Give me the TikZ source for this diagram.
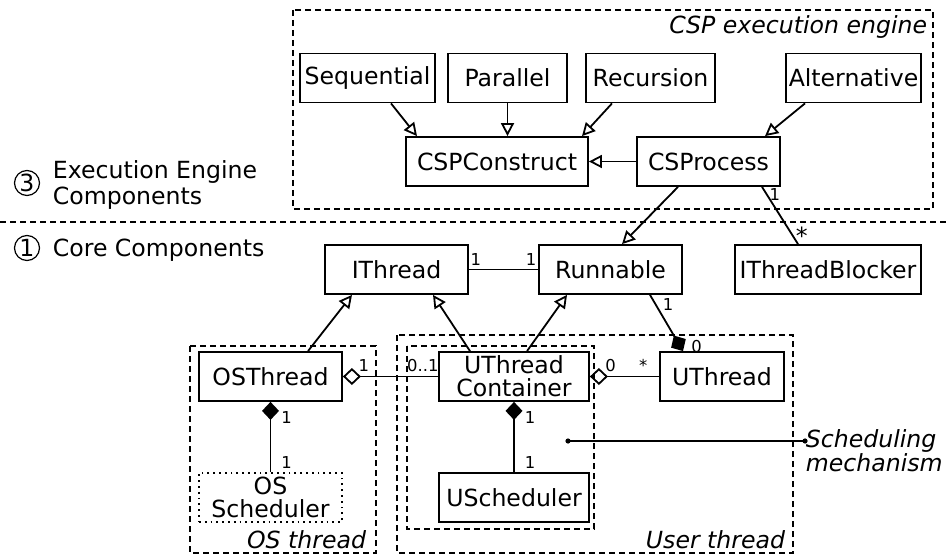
\documentclass[tikz,border=0pt]{standalone}
\usepackage{fontspec}
\setmainfont{DejaVu Sans}
\usetikzlibrary{arrows.meta}

\begin{document}
\begin{tikzpicture}[x=0.5pt, y=-0.5pt, line width=0.9pt,
            font=\fontsize{11.8}{11.5}\selectfont,
            cls/.style={draw, inner sep=0pt, minimum height=24.5pt, align=center},
            mult/.style={font=\fontsize{8.2}{9}\selectfont, inner sep=0pt},
            dashbox/.style={dash pattern=on 3pt off 2pt, line width=0.6pt},
            boxlabel/.style={font=\fontsize{11.8}{12}\selectfont\itshape, inner sep=0pt},
            circnum/.style={circle, draw, line width=0.6pt, inner sep=0pt, minimum size=12.5pt},
            gen/.style={-{Triangle[open,length=6.5pt,width=6.5pt]}},
            agg/.style={{Diamond[open,length=9pt,width=8.5pt]}-},
            comp/.style={{Diamond[length=9pt,width=8.5pt]}-}]
            \useasboundingbox (0,0) rectangle (946,555);

            \draw[dashbox] (293,10) rectangle (933,209);
            \draw[dashbox] (0,222) -- (946,222);
            \draw[dashbox] (190,346) rectangle (376,553);
            \draw[dashbox] (397,335) rectangle (793,553);
            \draw[dashbox] (407,346) rectangle (594,529);

            \node[boxlabel, anchor=east] (csplbl) at (928,27) {CSP execution engine};
            \node[boxlabel, anchor=east] (oslbl) at (367,540) {OS thread};
            \node[boxlabel, anchor=east] (userlbl) at (786,540) {User thread};

            \node[circnum] (three) at (27,183) {3};
            \node[anchor=west, align=left, inner sep=0pt, font=\fontsize{11.8}{12.8}\selectfont] (eec) at (52,185) {Execution Engine\\Components};
            \node[circnum] (one) at (27,248) {1};
            \node[anchor=west, inner sep=0pt] (core) at (52,250) {Core Components};

            \node[cls, minimum width=67.5pt] (seq) at (367.5,78) {Sequential};
            \node[cls, minimum width=59.5pt] (par) at (507.5,78) {Parallel};
            \node[cls, minimum width=64.5pt] (rec) at (650.5,78) {Recursion};
            \node[cls, minimum width=67.5pt] (alt) at (853.5,78) {Alternative};
            \node[cls, minimum width=91pt] (cspc) at (497,161.5) {CSPConstruct};
            \node[cls, minimum width=71.5pt] (cspp) at (708.5,161.5) {CSProcess};
            \node[cls, minimum width=71.5pt] (ithr) at (396.5,269.5) {IThread};
            \node[cls, minimum width=71.5pt] (run) at (610.5,269.5) {Runnable};
            \node[cls, minimum width=93pt] (blk) at (828,269.5) {IThreadBlocker};
            \node[cls, minimum width=71.5pt] (ost) at (270.5,376.5) {OSThread};
            \node[cls, minimum width=71.5pt, dotted] (oss) at (270.5,497.5) {OS\\Scheduler};
            \node[cls, minimum width=75pt] (utc) at (514,376.5) {UThread\\Container};
            \node[cls, minimum width=75pt] (usch) at (514,497.5) {UScheduler};
            \node[cls, minimum width=62pt] (uth) at (722,376.5) {UThread};

            \draw[gen] ([xshift=11.75pt]seq.south) -- ([xshift=-40pt]cspc.north);
            \draw[gen] (par.south) -- (par.south |- cspc.north);
            \draw[gen] ([xshift=-19.25pt]rec.south) -- ([xshift=42.5pt]cspc.north);
            \draw[gen] ([xshift=-24.25pt]alt.south) -- ([xshift=28.25pt]cspp.north);
            \draw[gen] (cspp) -- (cspc);
            \draw[gen] ([xshift=-15.25pt]cspp.south) -- ([xshift=5.75pt]run.north);
            \draw ([xshift=26.75pt]cspp.south) -- node[mult, pos=0.13, right=1pt] {1} node[pos=0.86, right=1pt, inner sep=0pt] {*} ([xshift=-15pt]blk.north);

            \draw (ithr.east) -- node[mult, pos=0.1, above=1.5pt] {1} node[mult, pos=0.9, above=1.5pt] {1} (run.west);
            \draw[gen] ([xshift=18.75pt]ost.north) -- ([xshift=-22.25pt]ithr.south);
            \draw[gen] ([xshift=-22pt]utc.north) -- ([xshift=18.25pt]ithr.south);
            \draw[gen] ([xshift=6.5pt]utc.north) -- ([xshift=-21.75pt]run.south);
            \draw[comp] ([xshift=-19.5pt]uth.north) -- node[mult, pos=0.08, right=5pt] {0} node[mult, pos=0.82, right=3pt] {1} ([xshift=19.75pt]run.south);

            \draw[agg] (ost.east) -- node[mult, pos=0.22, above=2pt] {1} node[mult, pos=0.84, above=2pt] {0..1} (utc.west);
            \draw[agg] (utc.east) -- node[mult, pos=0.3, above=2pt] {0} node[mult, pos=0.77, above=2pt] {*} (uth.west);
            \draw[comp] (ost.south) -- node[mult, pos=0.22, right=5pt] {1} node[mult, pos=0.86, right=5pt] {1} (oss.north);
            \draw[comp] (utc.south) -- node[mult, pos=0.22, right=5pt] {1} node[mult, pos=0.86, right=5pt] {1} (usch.north);

            \coordinate (smpt) at (568,441);
            \node[boxlabel, anchor=west, align=left] (sm) at (805,451) {Scheduling\\mechanism};
            \draw[line width=0.6pt] (smpt) -- (smpt -| sm.west);
            \fill (smpt) circle (1.3pt);
            \fill (smpt -| sm.west) circle (1.3pt);
        \end{tikzpicture}
\end{document}
